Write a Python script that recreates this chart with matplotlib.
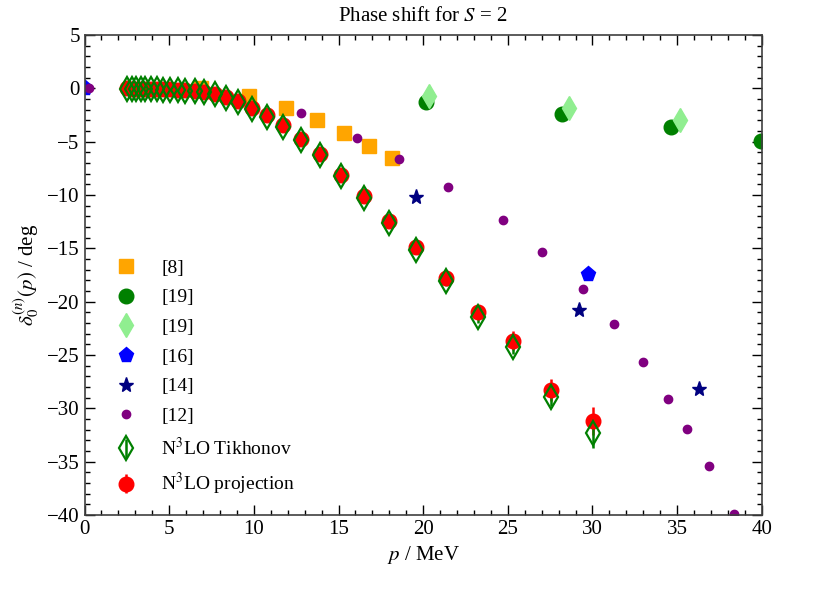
import matplotlib
matplotlib.use("Agg")
import matplotlib.pyplot as plt
from matplotlib.ticker import MultipleLocator

plt.rcParams['font.family'] = ['Liberation Serif', 'DejaVu Serif']
plt.rcParams['mathtext.fontset'] = 'stix'

# [8]
p_ref8 = [6.9, 9.7, 11.9, 13.7, 15.3, 16.8, 18.15]
d_ref8 = [0.05, -0.72, -1.81, -3.01, -4.16, -5.36, -6.51]
# [19] circles
p_ref19a = [20.16, 28.21, 34.63, 39.95]
d_ref19a = [-1.29, -2.38, -3.60, -4.89]
# [19] diamonds
p_ref19b = [20.32, 28.62, 35.16]
d_ref19b = [-0.72, -1.82, -2.98]
# [16]
p_ref16 = [0.05, 29.71]
d_ref16 = [0.0, -17.39]
# [14]
p_ref14 = [19.55, 29.18, 36.28]
d_ref14 = [-10.18, -20.80, -28.22]
# [12]
p_ref12 = [0.27, 12.78, 16.12, 18.56, 21.48, 24.69, 26.99, 29.42, 31.25,
           33.0, 34.47, 35.59, 36.86, 38.35]
d_ref12 = [0.0, -2.28, -4.63, -6.64, -9.24, -12.31, -15.39, -18.83, -22.09,
           -25.66, -29.14, -31.95, -35.43, -39.88]

# N3LO results
p_n3lo = [2.48, 2.78, 3.03, 3.31, 3.58, 3.90, 4.25, 4.61, 5.04, 5.49, 5.94,
          6.50, 7.06, 7.68, 8.35, 9.07, 9.90, 10.79, 11.73, 12.78, 13.90,
          15.16, 16.50, 17.97, 19.57, 21.32, 23.21, 25.28, 27.54, 30.01]
d_proj = [0.0, -0.01, -0.01, -0.02, -0.03, -0.04, -0.05, -0.07, -0.09, -0.12,
          -0.16, -0.22, -0.32, -0.50, -0.82, -1.19, -1.81, -2.54, -3.48,
          -4.73, -6.14, -8.08, -10.12, -12.41, -14.92, -17.79, -20.99,
          -23.66, -28.29, -31.17]
e_proj = [0.01, 0.01, 0.01, 0.01, 0.01, 0.02, 0.02, 0.02, 0.03, 0.03, 0.04,
          0.05, 0.06, 0.07, 0.08, 0.1, 0.1, 0.12, 0.14, 0.16, 0.18, 0.2,
          0.22, 0.25, 0.3, 0.4, 0.5, 0.9, 1.0, 1.3]
d_tikh = [-0.05, -0.06, -0.06, -0.07, -0.08, -0.09, -0.1, -0.12, -0.14, -0.17,
          -0.22, -0.28, -0.38, -0.57, -0.9, -1.28, -1.92, -2.65, -3.6,
          -4.87, -6.28, -8.22, -10.29, -12.58, -15.13, -18.11, -21.46,
          -24.22, -28.92, -32.30]
e_tikh = [0.01, 0.01, 0.01, 0.01, 0.01, 0.02, 0.02, 0.02, 0.03, 0.03, 0.04,
          0.05, 0.06, 0.07, 0.08, 0.1, 0.1, 0.12, 0.14, 0.16, 0.18, 0.2,
          0.22, 0.25, 0.3, 0.4, 0.5, 0.7, 0.9, 1.4]

fig = plt.figure(figsize=(8.13, 6.05), dpi=100)
ax = fig.add_axes([0.104, 0.149, 0.833, 0.793])

h8, = ax.plot(p_ref8, d_ref8, 's', color='orange', ms=10, ls='none', label='[8]')
h19a, = ax.plot(p_ref19a, d_ref19a, 'o', color='green', ms=10.5, ls='none', label='[19]')
h19b, = ax.plot(p_ref19b, d_ref19b, 'd', color='lightgreen', ms=12.5, ls='none', label='[19]')
h16, = ax.plot(p_ref16, d_ref16, 'p', color='blue', ms=11, ls='none', label='[16]')
h14, = ax.plot(p_ref14, d_ref14, '*', color='navy', ms=11, ls='none', label='[14]')
h12, = ax.plot(p_ref12, d_ref12, 'o', color='purple', ms=6, ls='none', label='[12]')

hp = ax.errorbar(p_n3lo, d_proj, yerr=e_proj, fmt='o', color='red', ms=10.5,
                 elinewidth=1.8, label='N$^3$LO projection')
ht = ax.errorbar(p_n3lo, d_tikh, yerr=e_tikh, fmt='d', color='green', mfc='none',
                 mec='green', mew=1.6, ms=12, elinewidth=1.8, label='N$^3$LO Tikhonov')

ax.set_xlim(0, 40)
ax.set_ylim(-40, 5)
ax.xaxis.set_major_locator(MultipleLocator(5))
ax.xaxis.set_minor_locator(MultipleLocator(1))
ax.yaxis.set_major_locator(MultipleLocator(5))
ax.yaxis.set_minor_locator(MultipleLocator(1))
ax.tick_params(which='both', direction='in', top=True, right=True, labelsize=15)
ax.tick_params(which='major', length=7, width=1)
ax.tick_params(which='minor', length=3.5, width=1)
for s in ax.spines.values():
    s.set_linewidth(1.2)
    s.set_color('0.25')

ax.set_title('Phase shift for $S$ = 2', fontsize=15, pad=10)
ax.set_xlabel('$p$ / MeV', fontsize=15)
ax.set_ylabel(r'$\delta_0^{(n)}(p)$ / deg', fontsize=15)

ax.legend(handles=[h8, h19a, h19b, h16, h14, h12, ht, hp], loc='lower left',
          bbox_to_anchor=(0.01, 0.0), frameon=False, fontsize=14,
          labelspacing=0.62, handletextpad=0.9, handlelength=1.8, numpoints=1)

fig.savefig('out.png', dpi=100)
